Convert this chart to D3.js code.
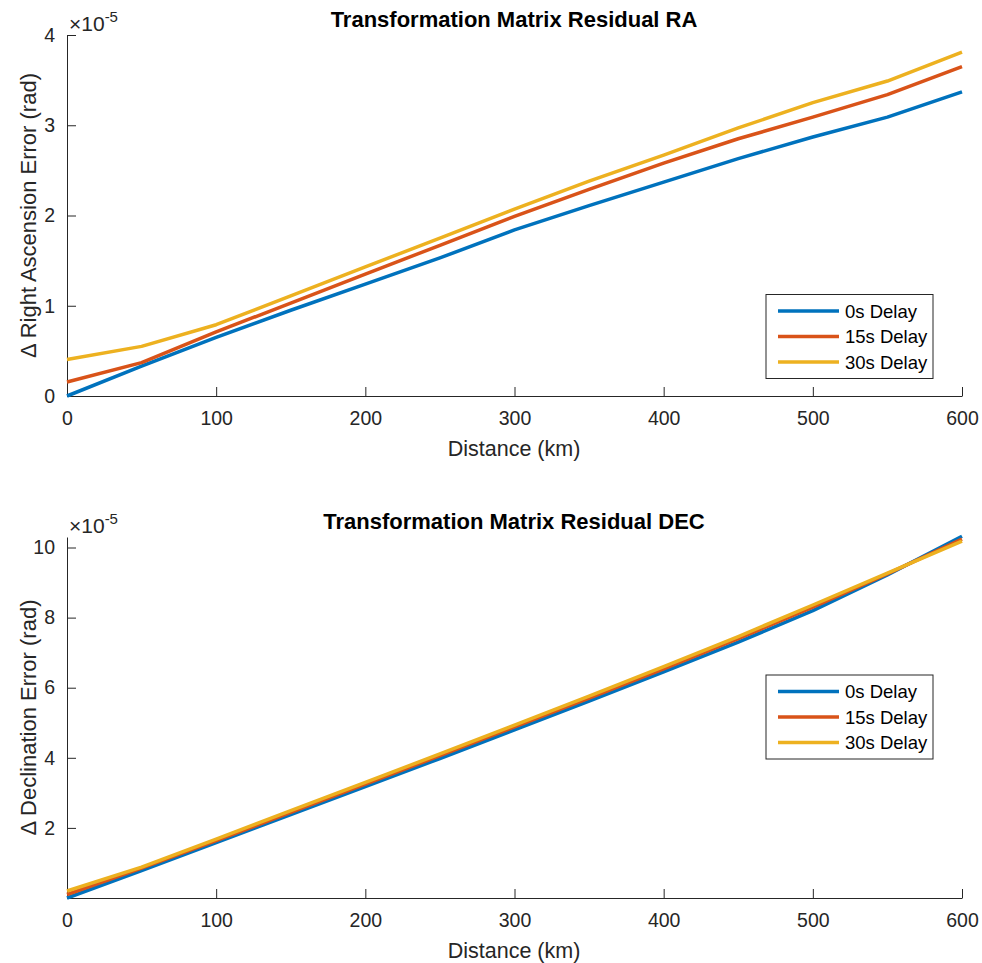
<!DOCTYPE html>
<html lang="en">
<head>
<meta charset="UTF-8">
<script src="https://d3js.org/d3.v7.min.js"></script>
<title>Transformation Matrix Residual</title>
<style>
    body { margin: 0; background: #fff; }
    svg { display: block; font-family: "Liberation Sans", Arial, sans-serif; }
    .axis text { fill: #262626; font-size: 19.5px; }
    .axis path, .axis line { stroke: #262626; }
</style>
</head>
<body>
<script>
// distance (km)
var distance = [0, 50, 100, 150, 200, 250, 300, 350, 400, 450, 500, 550, 600];
var seriesNames = ["0s Delay", "15s Delay", "30s Delay"];
var seriesColors = ["#0072BD", "#D95319", "#EDB120"];

// RA residual, x 1e-5 rad
var raDelay0  = [0, 0.33, 0.65, 0.95, 1.24, 1.53, 1.84, 2.11, 2.37, 2.63, 2.87, 3.09, 3.37];
var raDelay15 = [0.155, 0.37, 0.71, 1.03, 1.35, 1.67, 1.99, 2.29, 2.58, 2.85, 3.09, 3.34, 3.65];
var raDelay30 = [0.405, 0.55, 0.79, 1.11, 1.43, 1.75, 2.07, 2.38, 2.67, 2.97, 3.25, 3.49, 3.81];

// DEC residual, x 1e-5 rad
var decDelay0  = [0, 0.78, 1.58, 2.38, 3.18, 3.98, 4.80, 5.62, 6.45, 7.30, 8.20, 9.22, 10.32];
var decDelay15 = [0.10, 0.85, 1.64, 2.44, 3.25, 4.06, 4.88, 5.70, 6.54, 7.40, 8.30, 9.25, 10.24];
var decDelay30 = [0.20, 0.88, 1.68, 2.49, 3.30, 4.11, 4.93, 5.76, 6.60, 7.46, 8.36, 9.27, 10.18];

var xTicks = [0, 100, 200, 300, 400, 500, 600];
var raTicks = [0, 1, 2, 3, 4];
var decTicks = [2, 4, 6, 8, 10];

var svg = d3.select("body").append("svg")
    .attr("width", 982)
    .attr("height", 963);

function drawPanel(opt) {
    var x = d3.scaleLinear().domain([0, 600]).range([67, 962]);
    var y = d3.scaleLinear().domain(opt.yDomain).range([opt.bottom, opt.top]);
    var g = svg.append("g");

    // axes, ticks pointing inward
    var xAxis = d3.axisBottom(x).tickValues(xTicks).tickSize(-9).tickPadding(15).tickSizeOuter(0);
    g.append("g").attr("class", "axis")
        .attr("transform", "translate(0," + opt.bottom + ")")
        .call(xAxis);

    var yAxis = d3.axisLeft(y).tickValues(opt.yTicks).tickFormat(d3.format("d"))
        .tickSize(-9).tickPadding(12).tickSizeOuter(0);
    g.append("g").attr("class", "axis")
        .attr("transform", "translate(67,0)")
        .call(yAxis);

    g.selectAll(".axis").attr("font-family", null).attr("font-size", null);

    // lines
    var line = d3.line()
        .x(function(d, i) { return x(distance[i]); })
        .y(function(d) { return y(d); });

    opt.series.forEach(function(s, k) {
        g.append("path")
            .attr("d", line(s))
            .attr("fill", "none")
            .attr("stroke", seriesColors[k])
            .attr("stroke-width", 3.5)
            .attr("stroke-linejoin", "round");
    });

    // title
    g.append("text")
        .attr("x", 514).attr("y", opt.top - 8)
        .attr("text-anchor", "middle")
        .attr("font-weight", "bold")
        .attr("font-size", 22)
        .attr("fill", "#000")
        .text(opt.title);

    // exponent
    var ex = g.append("text").attr("x", 69).attr("y", opt.top - 4)
        .attr("fill", "#262626").attr("font-size", 21);
    ex.append("tspan").text("\u00d710");
    ex.append("tspan").attr("dy", -9).attr("font-size", 15).text("-5");

    // axis labels
    g.append("text")
        .attr("x", 514).attr("y", opt.bottom + 60)
        .attr("text-anchor", "middle")
        .attr("font-size", 21.5)
        .attr("fill", "#262626")
        .text("Distance (km)");

    g.append("text")
        .attr("transform", "translate(36," + ((opt.top + opt.bottom) / 2) + ") rotate(-90)")
        .attr("text-anchor", "middle")
        .attr("font-size", 22)
        .attr("fill", "#262626")
        .text(opt.ylabel);

    // legend
    var lg = g.append("g").attr("transform", "translate(766," + opt.legendTop + ")");
    lg.append("rect")
        .attr("width", 167).attr("height", 84)
        .attr("fill", "#fff").attr("stroke", "#262626").attr("stroke-width", 1);
    seriesNames.forEach(function(name, k) {
        var yy = 16.5 + k * 25.5;
        lg.append("line")
            .attr("x1", 12).attr("x2", 73).attr("y1", yy).attr("y2", yy)
            .attr("stroke", seriesColors[k]).attr("stroke-width", 3.5);
        lg.append("text")
            .attr("x", 79).attr("y", yy + 6.5)
            .attr("font-size", 18.5).attr("fill", "#000")
            .text(name);
    });
}

drawPanel({
    top: 35, bottom: 396,
    yDomain: [0, 4], yTicks: raTicks,
    series: [raDelay0, raDelay15, raDelay30],
    title: "Transformation Matrix Residual RA",
    ylabel: "\u0394 Right Ascension Error (rad)",
    legendTop: 294.5
});

drawPanel({
    top: 537, bottom: 898,
    yDomain: [0, 10.3], yTicks: decTicks,
    series: [decDelay0, decDelay15, decDelay30],
    title: "Transformation Matrix Residual DEC",
    ylabel: "\u0394 Declination Error (rad)",
    legendTop: 675
});
</script>
</body>
</html>
